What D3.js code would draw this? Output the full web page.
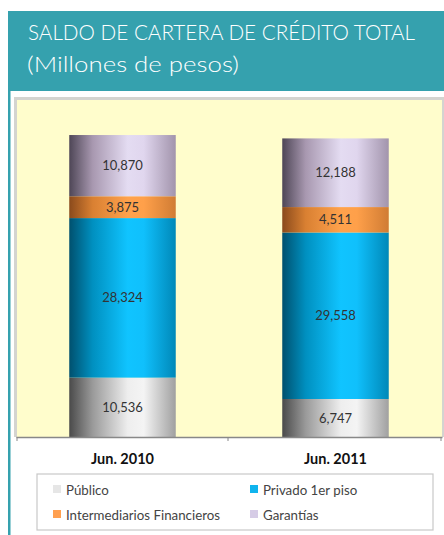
<!DOCTYPE html>
<html>
<head>
<meta charset="utf-8">
<script src="https://cdn.jsdelivr.net/npm/d3@7"></script>
<style>
  body { margin: 0; background: #fff; }
  svg { display: block; font-family: Lato, "Open Sans", sans-serif; }
</style>
</head>
<body>
<svg id="chart" width="444" height="535"></svg>
<script>
// data
const periods = ["Jun. 2010", "Jun. 2011"];
const series = ["Público", "Privado 1er piso", "Intermediarios Financieros", "Garantías"];
const publico = [10536, 6747];
const privado = [28324, 29558];
const intermediarios = [3875, 4511];
const garantias = [10870, 12188];
const yMax = 60000;

const svg = d3.select("#chart");

// gradients to give the bars the cylinder look
const grad = [
    { id: "gPub", stops: ["#4a4a4a", "#9a9a9a", "#eeeeee", "#f4f4f4", "#a0a0a0"], swatch: "#e6e6e6" },
    { id: "gPri", stops: ["#00506e", "#0090c0", "#10c4ff", "#10c0fc", "#0088b8"], swatch: "#10b4ee" },
    { id: "gInt", stops: ["#8a4a1c", "#d98032", "#ffa24c", "#ffa04a", "#d07c34"], swatch: "#ffa050" },
    { id: "gGar", stops: ["#4e4656", "#a898b0", "#e4dcf2", "#e0d6ee", "#a294ac"], swatch: "#d6cce6" }
];
const offs = [0, 0.22, 0.55, 0.7, 1];
const defs = svg.append("defs");
grad.forEach(g => {
    const lg = defs.append("linearGradient").attr("id", g.id)
        .attr("x1", "0%").attr("x2", "100%").attr("y1", "0%").attr("y2", "0%");
    g.stops.forEach((c, i) => lg.append("stop").attr("offset", offs[i]).attr("stop-color", c));
});

// header band
svg.append("rect").attr("x", 8).attr("y", 11).attr("width", 436).attr("height", 80).attr("fill", "#35a1ae");
svg.append("rect").attr("x", 8).attr("y", 90).attr("width", 2.5).attr("height", 445).attr("fill", "#35a1ae");
svg.append("text").attr("x", 28).attr("y", 40).attr("fill", "#fff")
    .style("font-size", "21px").style("font-weight", 300)
    .attr("textLength", 387).attr("lengthAdjust", "spacingAndGlyphs")
    .text("SALDO DE CARTERA DE CRÉDITO TOTAL");
svg.append("text").attr("x", 27).attr("y", 72).attr("fill", "#fff")
    .style("font-size", "22px").style("font-weight", 300)
    .attr("textLength", 212).attr("lengthAdjust", "spacingAndGlyphs")
    .text("(Millones de pesos)");

// plot area
const pLeft = 16, pRight = 442, pTop = 99, pBottom = 437;
svg.append("rect").attr("x", pLeft - 2).attr("y", pTop - 2).attr("width", pRight - pLeft + 4).attr("height", pBottom - pTop + 2)
    .attr("fill", "#d4d4d0");
svg.append("rect").attr("x", pLeft + 1).attr("y", pTop + 1).attr("width", pRight - pLeft - 1).attr("height", pBottom - pTop - 1)
    .attr("fill", "#fffdcc");

const x = d3.scaleBand().domain(periods).range([pLeft, pRight]).paddingInner(0.5).paddingOuter(0.25);
const y = d3.scaleLinear().domain([0, yMax]).range([pBottom, pTop]);

const rows = periods.map((p, i) => ({
    period: p, values: [publico[i], privado[i], intermediarios[i], garantias[i]]
}));
const stack = d3.stack().keys([0, 1, 2, 3]).value((d, k) => d.values[k]);
const layers = stack(rows);

const g = svg.append("g");
layers.forEach((layer, k) => {
    g.selectAll(null).data(layer).enter().append("rect")
        .attr("x", d => x(d.data.period))
        .attr("width", x.bandwidth())
        .attr("y", d => y(d[1]))
        .attr("height", d => y(d[0]) - y(d[1]))
        .attr("fill", `url(#${grad[k].id})`);
    g.selectAll(null).data(layer).enter().append("text")
        .attr("x", d => x(d.data.period) + x.bandwidth() / 2)
        .attr("y", d => (y(d[0]) + y(d[1])) / 2)
        .attr("dy", "0.35em")
        .attr("text-anchor", "middle")
        .attr("fill", "#333")
        .style("font-size", "13px")
        .text(d => d3.format(",")(d.data.values[k]));
});

// x axis
const axis = svg.append("g").attr("transform", `translate(0,${pBottom})`)
    .call(d3.axisBottom(x).tickSize(0).tickPadding(0).tickFormat(""));
axis.select(".domain").attr("stroke", "#888").attr("stroke-width", 1.5);
[pLeft + 1, (pLeft + pRight) / 2 - 1, pRight - 1].forEach(t => {
    svg.append("line").attr("x1", t).attr("x2", t).attr("y1", pBottom).attr("y2", pBottom + 4)
        .attr("stroke", "#888");
});
svg.selectAll(null).data(periods).enter().append("text")
    .attr("x", d => x(d) + x.bandwidth() / 2)
    .attr("y", 464)
    .attr("text-anchor", "middle")
    .style("font-size", "14.5px").style("font-weight", "bold")
    .attr("fill", "#111")
    .text(d => d);

// legend
svg.append("rect").attr("x", 37).attr("y", 474).attr("width", 396).attr("height", 56)
    .attr("fill", "#fff").attr("stroke", "#c8c8c8").attr("stroke-width", 1.2);
const legPos = [[53, 495], [250, 495], [53, 520], [250, 520]];
series.forEach((s, k) => {
    svg.append("rect").attr("x", legPos[k][0]).attr("y", legPos[k][1] - 10)
        .attr("width", 8).attr("height", 8).attr("fill", grad[k].swatch);
    svg.append("text").attr("x", legPos[k][0] + 13).attr("y", legPos[k][1])
        .attr("fill", "#444").style("font-size", "13.3px")
        .text(s);
});
</script>
</body>
</html>
